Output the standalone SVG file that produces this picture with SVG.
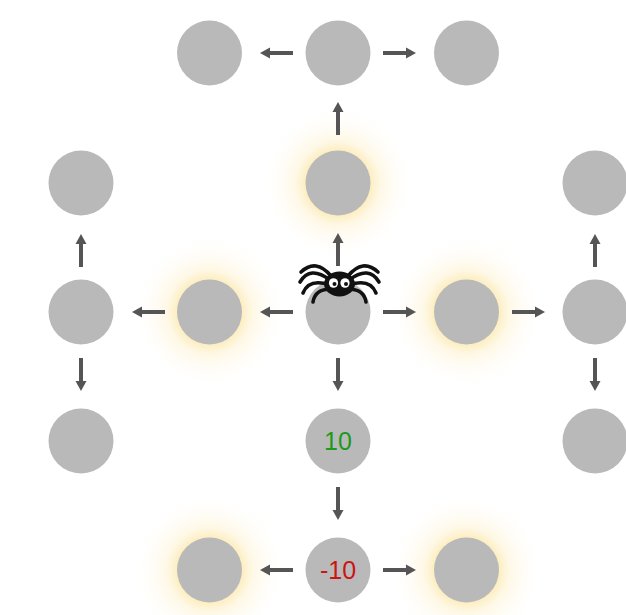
<svg xmlns="http://www.w3.org/2000/svg" width="626" height="615" viewBox="0 0 626 615">
  <style>
    .cell { fill: #b9b9b9; }
    .arrow { stroke: #555; stroke-width: 4; fill: none; marker-end: url(#head); }
    .val { font-family: "Liberation Sans", Arial, sans-serif; font-size: 25px; text-anchor: middle; dominant-baseline: central; }
    .leg { stroke: #111; stroke-width: 3.6; fill: none; stroke-linecap: round; }
  </style>
  <defs>
    <radialGradient id="glow" cx="0.5" cy="0.5" r="0.5">
      <stop offset="0.42" stop-color="#fbe39a" stop-opacity="0.6"/>
      <stop offset="0.55" stop-color="#fdefc6" stop-opacity="0.45"/>
      <stop offset="0.78" stop-color="#fef7e4" stop-opacity="0.2"/>
      <stop offset="1" stop-color="#ffffff" stop-opacity="0"/>
    </radialGradient>
    <marker id="head" markerWidth="12" markerHeight="12" refX="3" refY="6" orient="auto" markerUnits="userSpaceOnUse" viewBox="0 0 12 12">
      <path d="M0,0.5 L10,6 L0,11.5 Z" fill="#555"/>
    </marker>
  </defs>
  <rect width="626" height="615" fill="#fff"/>

  <!-- soft highlights behind selected cells -->
  <g id="highlights">
    <circle cx="338" cy="183" r="78" fill="url(#glow)"/>
    <circle cx="209.5" cy="312" r="78" fill="url(#glow)"/>
    <circle cx="466.5" cy="312" r="78" fill="url(#glow)"/>
    <circle cx="209.5" cy="570" r="78" fill="url(#glow)"/>
    <circle cx="466.5" cy="570" r="78" fill="url(#glow)"/>
  </g>

  <g id="connectors">
    <!-- top row -->
    <line class="arrow" x1="293" y1="53" x2="267" y2="53"/>
    <line class="arrow" x1="383" y1="53" x2="409" y2="53"/>
    <!-- center column -->
    <line class="arrow" x1="338" y1="135" x2="338" y2="109"/>
    <line class="arrow" x1="338" y1="266" x2="338" y2="240"/>
    <line class="arrow" x1="338" y1="358" x2="338" y2="384"/>
    <line class="arrow" x1="338" y1="487" x2="338" y2="513"/>
    <!-- middle row -->
    <line class="arrow" x1="293" y1="312" x2="267" y2="312"/>
    <line class="arrow" x1="165" y1="312" x2="139" y2="312"/>
    <line class="arrow" x1="383" y1="312" x2="409" y2="312"/>
    <line class="arrow" x1="512" y1="312" x2="538" y2="312"/>
    <!-- side columns -->
    <line class="arrow" x1="81" y1="267" x2="81" y2="241"/>
    <line class="arrow" x1="81" y1="358" x2="81" y2="384"/>
    <line class="arrow" x1="595" y1="267" x2="595" y2="241"/>
    <line class="arrow" x1="595" y1="358" x2="595" y2="384"/>
    <!-- bottom row -->
    <line class="arrow" x1="293" y1="570" x2="267" y2="570"/>
    <line class="arrow" x1="383" y1="570" x2="409" y2="570"/>
  </g>

  <g id="n-top-left"><circle class="cell" cx="209.5" cy="53" r="32.5"/></g>
  <g id="n-top-mid"><circle class="cell" cx="338" cy="53" r="32.5"/></g>
  <g id="n-top-right"><circle class="cell" cx="466.5" cy="53" r="32.5"/></g>
  <g id="n-up"><circle class="cell" cx="338" cy="183" r="32.5"/></g>
  <g id="n-far-left-up"><circle class="cell" cx="81" cy="183" r="32.5"/></g>
  <g id="n-far-right-up"><circle class="cell" cx="595" cy="183" r="32.5"/></g>
  <g id="n-far-left"><circle class="cell" cx="81" cy="312" r="32.5"/></g>
  <g id="n-left"><circle class="cell" cx="209.5" cy="312" r="32.5"/></g>
  <g id="n-center"><circle class="cell" cx="338" cy="312" r="32.5"/></g>
  <g id="n-right"><circle class="cell" cx="466.5" cy="312" r="32.5"/></g>
  <g id="n-far-right"><circle class="cell" cx="595" cy="312" r="32.5"/></g>
  <g id="n-far-left-down"><circle class="cell" cx="81" cy="441" r="32.5"/></g>
  <g id="n-far-right-down"><circle class="cell" cx="595" cy="441" r="32.5"/></g>
  <g id="n-reward">
    <circle class="cell" cx="338" cy="441" r="32.5"/>
    <text class="val" x="338" y="441" fill="#1c9a1c">10</text>
  </g>
  <g id="n-bottom-left"><circle class="cell" cx="209.5" cy="570" r="32.5"/></g>
  <g id="n-penalty">
    <circle class="cell" cx="338" cy="570" r="32.5"/>
    <text class="val" x="338" y="570" fill="#cc1414">-10</text>
  </g>
  <g id="n-bottom-right"><circle class="cell" cx="466.5" cy="570" r="32.5"/></g>

  <!-- spider agent sitting on the center cell -->
  <g id="agent">
    <path class="leg" d="M331,276 Q316,258 301,272"/>
    <path class="leg" d="M330,280 Q310,265 300,282"/>
    <path class="leg" d="M330,285 Q309,278 303,293"/>
    <path class="leg" d="M331,289 Q315,289 313,302"/>
    <path class="leg" d="M348,276 Q363,258 378,272"/>
    <path class="leg" d="M349,280 Q369,265 379,282"/>
    <path class="leg" d="M349,285 Q370,278 376,293"/>
    <path class="leg" d="M348,289 Q364,289 366,302"/>
    <ellipse cx="339.5" cy="284" rx="15.5" ry="12.5" fill="#111"/>
    <ellipse cx="333.5" cy="283" rx="4.6" ry="4.8" fill="#fff"/>
    <ellipse cx="345" cy="283" rx="4.6" ry="4.8" fill="#fff"/>
    <circle cx="334.5" cy="284" r="2" fill="#111"/>
    <circle cx="346" cy="284" r="2" fill="#111"/>
  </g>
</svg>
